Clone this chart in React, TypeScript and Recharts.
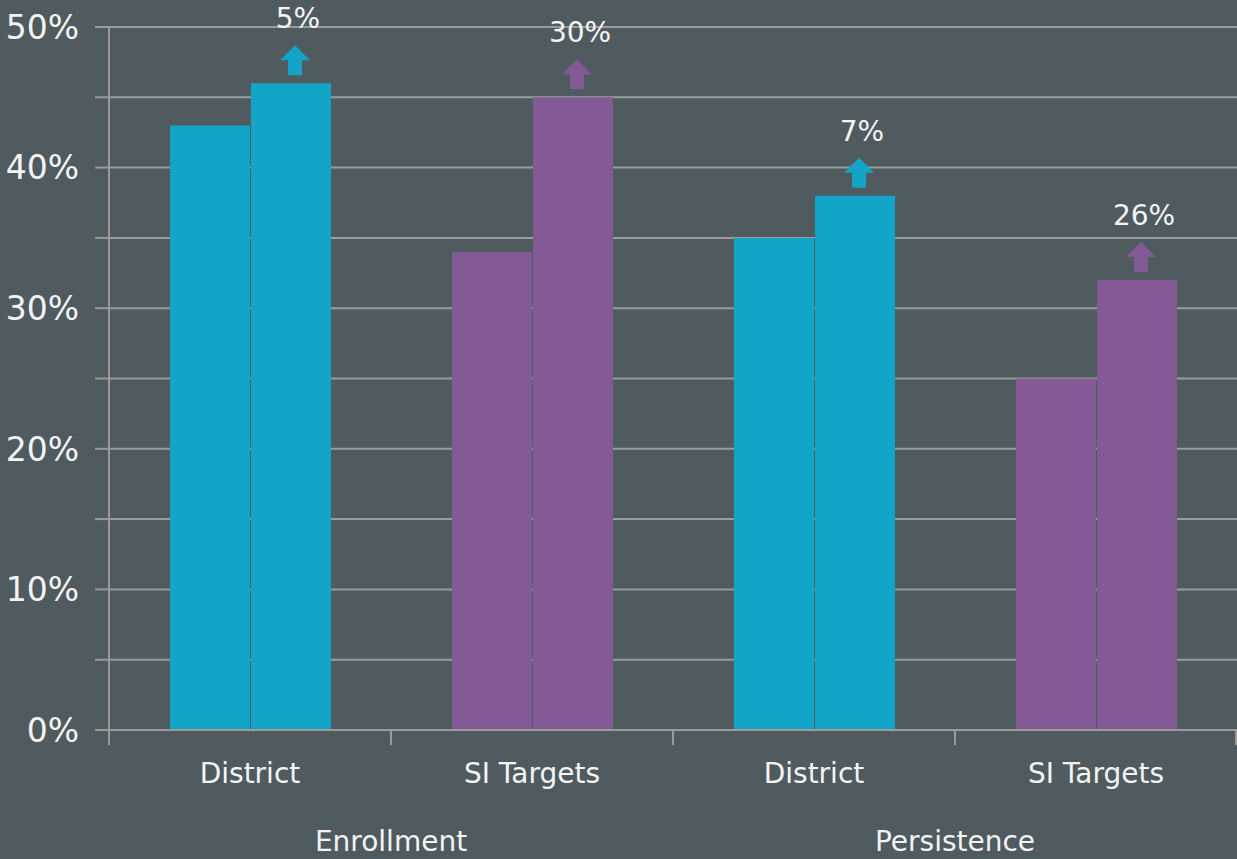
import { BarChart, Bar, XAxis, YAxis, CartesianGrid, Cell, LabelList } from "recharts";

const categories = ["District", "SI Targets", "District", "SI Targets"];
const groups = ["Enrollment", "Enrollment", "Persistence", "Persistence"];
const baseline = [43, 34, 35, 25];
const current = [46, 45, 38, 32];
const changeLabels = ["5%", "30%", "7%", "26%"];
const yTicks = [0, 5, 10, 15, 20, 25, 30, 35, 40, 45, 50];

const data = categories.map((name, i) => ({
  name,
  group: groups[i],
  baseline: baseline[i],
  current: current[i],
  change: changeLabels[i],
}));

const CHART_W = 1237;
const CHART_H = 859;
const Y_W = 109;
const BAND = (CHART_W - Y_W) / categories.length;

const BG = "#4f5b5f";
const GRID = "#9a9c9c";
const TEAL = "#12a5c7";
const PURPLE = "#835996";
const TEXT = "#f4f4f4";
const FONT = "'DejaVu Sans', Verdana, sans-serif";

const barColor = (i: number) => (i % 2 === 0 ? TEAL : PURPLE);

const YTick = (props: any) => {
  const { y, payload } = props;
  if (payload.value % 10 !== 0) return null;
  return (
    <text x={79} y={y} dy="0.36em" textAnchor="end" fill={TEXT} fontSize={33} fontFamily={FONT}>
      {payload.value}%
    </text>
  );
};

const XTick = (props: any) => {
  const { x, y, index, payload } = props;
  const left = x - BAND / 2;
  const right = x + BAND / 2;
  return (
    <g>
      <line x1={left} x2={left} y1={y} y2={y + 15} stroke={GRID} strokeWidth={2} />
      {index === categories.length - 1 && (
        <line x1={right - 1} x2={right - 1} y1={y} y2={y + 15} stroke={GRID} strokeWidth={2} />
      )}
      <text x={x} y={y + 53} textAnchor="middle" fill={TEXT} fontSize={28} fontFamily={FONT}>
        {payload.value}
      </text>
      {index % 2 === 0 && (
        <text x={right} y={y + 121} textAnchor="middle" fill={TEXT} fontSize={28} fontFamily={FONT}>
          {groups[index]}
        </text>
      )}
    </g>
  );
};

const ChangeMark = (props: any) => {
  const { x, y, width, index, value } = props;
  const cx = x + width / 2 + 4;
  const bottom = y - 8;
  const top = bottom - 30;
  const pts = [
    [cx - 7, bottom],
    [cx + 7, bottom],
    [cx + 7, bottom - 15],
    [cx + 15, bottom - 15],
    [cx, top],
    [cx - 15, bottom - 15],
    [cx - 7, bottom - 15],
  ]
    .map((p) => p.join(","))
    .join(" ");
  return (
    <g>
      <polygon points={pts} fill={barColor(index)} />
      <text x={cx + 3} y={top - 17} textAnchor="middle" fill={TEXT} fontSize={28} fontFamily={FONT}>
        {value}
      </text>
    </g>
  );
};

export default function App() {
  return (
    <div style={{ width: CHART_W, height: CHART_H, background: BG }}>
      <style>{"body{margin:0}"}</style>
      <BarChart
        width={CHART_W}
        height={CHART_H}
        data={data}
        margin={{ top: 27, right: 0, left: 0, bottom: 0 }}
        barCategoryGap={61}
        barGap={1}
      >
        <CartesianGrid vertical={false} stroke={GRID} strokeWidth={2} />
        <YAxis
          width={Y_W}
          domain={[0, 50]}
          ticks={yTicks}
          interval={0}
          tickSize={14}
          tickLine={{ stroke: GRID, strokeWidth: 2 }}
          axisLine={{ stroke: GRID, strokeWidth: 2 }}
          tick={<YTick />}
        />
        <XAxis
          dataKey="name"
          height={129}
          interval={0}
          tickSize={0}
          tickMargin={0}
          tickLine={false}
          axisLine={{ stroke: GRID, strokeWidth: 2 }}
          tick={<XTick />}
        />
        <Bar dataKey="baseline" isAnimationActive={false}>
          {data.map((_, i) => (
            <Cell key={i} fill={barColor(i)} />
          ))}
        </Bar>
        <Bar dataKey="current" isAnimationActive={false}>
          {data.map((_, i) => (
            <Cell key={i} fill={barColor(i)} />
          ))}
          <LabelList dataKey="change" content={<ChangeMark />} />
        </Bar>
      </BarChart>
    </div>
  );
}
